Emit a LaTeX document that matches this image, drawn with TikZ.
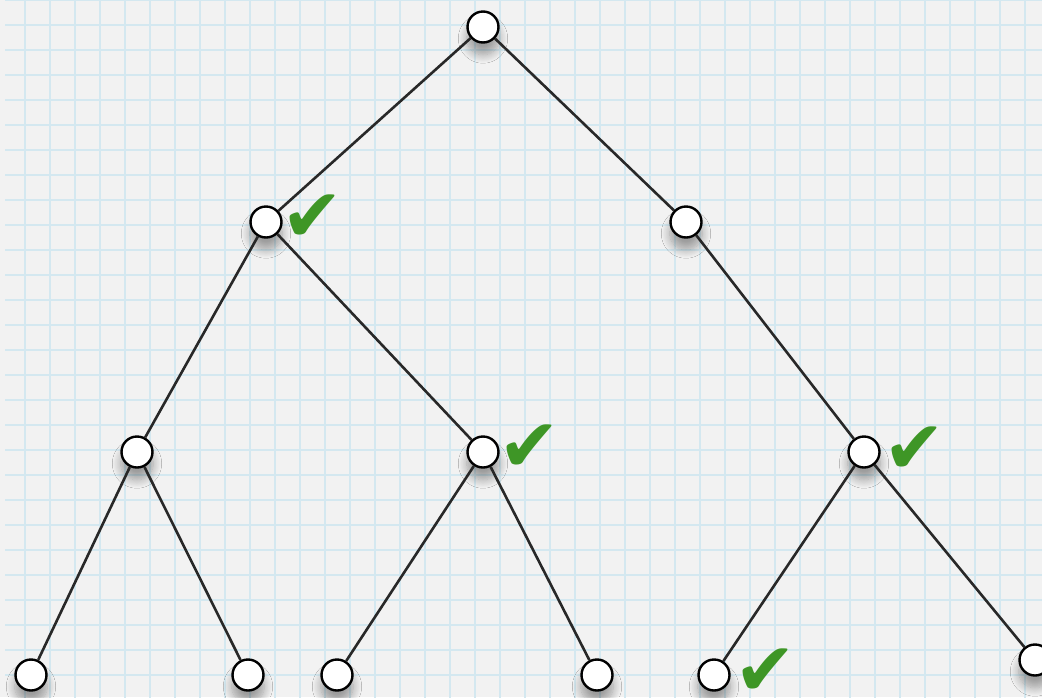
\documentclass[tikz,border=0pt]{standalone}
\usepackage{fontspec}
\newfontfamily\symfont{DejaVu Sans}
\usetikzlibrary{shadows.blur}
\definecolor{bgc}{RGB}{242,242,242}
\definecolor{gridc}{RGB}{212,232,240}
\definecolor{checkc}{RGB}{62,150,38}
\definecolor{edgec}{RGB}{40,40,40}
\tikzset{
  tnode/.style={circle,draw=black,line width=2.4pt,fill=white,minimum size=31pt,inner sep=0pt,
    blur shadow={shadow xshift=0pt,shadow yshift=-11pt,shadow blur steps=10,shadow blur radius=8pt,shadow opacity=35,shadow scale=1.05}},
  edge/.style={draw=edgec,line width=2.6pt},
  chk/.style={text=checkc,font=\symfont\fontsize{74}{74}\selectfont,inner sep=0pt}
}
\begin{document}
\begin{tikzpicture}[x=1pt,y=-1pt]
\fill[bgc] (0,0) rectangle (1042,697);
\useasboundingbox (0,0) rectangle (1042,697);
\draw[gridc,line width=1.2pt] (5,-10) grid[step=25pt] (1050,705);
\node[tnode] (r) at (483,27) {};
\node[tnode] (a) at (266,222) {};
\node[tnode] (b) at (686,222) {};
\node[tnode] (c) at (137,452) {};
\node[tnode] (d) at (483,452) {};
\node[tnode] (e) at (864,452) {};
\node[tnode] (f) at (31,675) {};
\node[tnode] (g) at (248,675) {};
\node[tnode] (h) at (337,675) {};
\node[tnode] (i) at (597,675) {};
\node[tnode] (j) at (714,675) {};
\node[tnode] (k) at (1035,660) {};
\path[edge] (r) -- (a) (r) -- (b) (a) -- (c) (a) -- (d) (b) -- (e)
  (c) -- (f) (c) -- (g) (d) -- (h) (d) -- (i) (e) -- (j) (e) -- (k);
\node[chk] (ca) at (312,218) {✔};
\node[chk] (cd) at (529,448) {✔};
\node[chk] (ce) at (914,450) {✔};
\node[chk] (cj) at (765,672) {✔};
\end{tikzpicture}
\end{document}
